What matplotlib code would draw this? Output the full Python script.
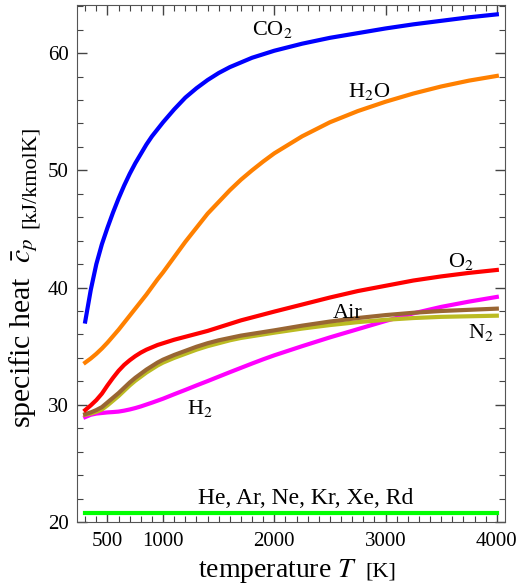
import numpy as np
import matplotlib
matplotlib.use("Agg")
import matplotlib.pyplot as plt
from matplotlib.ticker import MultipleLocator, FixedLocator

plt.rcParams['font.family'] = ['Liberation Serif', 'DejaVu Serif']
plt.rcParams['mathtext.fontset'] = 'stix'

### data (T in K, cp in kJ/kmolK)
T = [300, 350, 400, 450, 500, 550, 600, 650, 700, 750, 800, 850, 900, 950, 1000,
     1100, 1200, 1300, 1400, 1500, 1600, 1700, 1800, 1900, 2000,
     2250, 2500, 2750, 3000, 3250, 3500, 3750, 4000]

cp_co2 = [37.1, 39.8, 42.0, 43.7, 45.1, 46.4, 47.6, 48.7, 49.7, 50.6, 51.4, 52.2, 52.9, 53.5, 54.1,
          55.2, 56.2, 57.0, 57.7, 58.3, 58.8, 59.2, 59.6, 59.9, 60.2,
          60.8, 61.3, 61.7, 62.1, 62.45, 62.75, 63.05, 63.3]
cp_h2o = [33.6, 33.95, 34.35, 34.8, 35.3, 35.85, 36.4, 37.0, 37.6, 38.2, 38.8, 39.4, 40.05, 40.7, 41.3,
          42.6, 43.9, 45.1, 46.3, 47.3, 48.3, 49.2, 50.0, 50.75, 51.45,
          52.9, 54.1, 55.05, 55.85, 56.55, 57.15, 57.65, 58.05]
cp_o2 = [29.55, 29.95, 30.4, 30.95, 31.65, 32.3, 32.9, 33.4, 33.8, 34.15, 34.45, 34.7, 34.9, 35.1, 35.25,
         35.55, 35.8, 36.05, 36.3, 36.6, 36.9, 37.2, 37.45, 37.7, 37.95,
         38.55, 39.15, 39.7, 40.15, 40.6, 40.95, 41.25, 41.5]
cp_air = [29.2, 29.35, 29.55, 29.8, 30.2, 30.6, 31.0, 31.45, 31.9, 32.3, 32.65, 33.0, 33.3, 33.6, 33.85,
          34.25, 34.6, 34.95, 35.25, 35.5, 35.7, 35.9, 36.05, 36.2, 36.35,
          36.75, 37.1, 37.4, 37.65, 37.85, 38.0, 38.1, 38.2]
cp_n2 = [29.15, 29.25, 29.4, 29.6, 29.95, 30.35, 30.75, 31.2, 31.65, 32.05, 32.4, 32.75, 33.05, 33.35, 33.6,
         34.0, 34.35, 34.7, 35.0, 35.25, 35.5, 35.7, 35.85, 36.0, 36.15,
         36.5, 36.8, 37.05, 37.25, 37.4, 37.5, 37.55, 37.6]
cp_h2 = [28.95, 29.15, 29.25, 29.3, 29.35, 29.38, 29.42, 29.5, 29.6, 29.72, 29.86, 30.02, 30.18, 30.35, 30.52,
         30.9, 31.27, 31.65, 32.02, 32.4, 32.78, 33.15, 33.52, 33.88, 34.22,
         35.0, 35.75, 36.45, 37.15, 37.8, 38.35, 38.8, 39.2]
cp_mono = [20.8] * len(T)

# curve labels: text, T position, cp position
labels = ["CO$_2$", "H$_2$O", "O$_2$", "Air", "N$_2$", "H$_2$", "He, Ar, Ne, Kr, Xe, Rd"]
label_T = [1982, 2853, 3680, 2656, 3860, 1327, 2279]
label_cp = [62.0, 56.7, 42.2, 37.8, 36.2, 29.7, 22.0]
label_size = [16, 16, 16, 16, 16, 16, 17]

fig = plt.figure(figsize=(5.18, 5.88), dpi=100)
ax = fig.add_axes([0.1486, 0.1122, 0.8264, 0.8793])

lw = 3
ax.plot(T, cp_mono, color='#00ff00', lw=lw)
ax.plot(T, cp_h2, color='#ff00ff', lw=lw)
ax.plot(T, cp_n2, color='#bbbb22', lw=lw)
ax.plot(T, cp_air, color='#996633', lw=lw)
ax.plot(T, cp_o2, color='#ff0000', lw=lw)
ax.plot(T, cp_h2o, color='#ff8000', lw=lw)
ax.plot(T, cp_co2, color='#0000ff', lw=lw)

for txt, tx, ty, fs in zip(labels, label_T, label_cp, label_size):
    ax.text(tx, ty, txt, fontsize=fs, ha='center', va='center')

ax.set_xlim(226, 4074)
ax.set_ylim(20, 64.1)

ax.xaxis.set_major_locator(FixedLocator([500, 1000, 2000, 3000, 4000]))
ax.xaxis.set_minor_locator(MultipleLocator(100))
ax.yaxis.set_major_locator(MultipleLocator(10))
ax.yaxis.set_minor_locator(MultipleLocator(2))
ax.tick_params(which='both', direction='in', top=True, right=True, color='#444444',
               labelsize=15)
ax.tick_params(which='major', length=7, width=1)
ax.tick_params(which='minor', length=4, width=0.8)
ax.tick_params(axis='x', pad=7)
ax.tick_params(axis='y', pad=6)
for sp in ax.spines.values():
    sp.set_color('#555555')

# axis labels placed by hand, units a bit smaller like the original
xbase = 1 - 577 / 588
xl = fig.text(198 / 518, xbase, "temperature $T$", fontsize=20, ha='left', va='baseline')
yl = fig.text(24 / 518, 1 - 428 / 588, "specific heat  $\\bar{c}_p$", fontsize=21.5,
              rotation=90, ha='center', va='bottom')
fig.canvas.draw()
bb = xl.get_window_extent().transformed(fig.transFigure.inverted())
fig.text(bb.x1 + 8 / 518, xbase, "[K]", fontsize=16, ha='left', va='baseline')
bb = yl.get_window_extent().transformed(fig.transFigure.inverted())
fig.text(bb.x1, bb.y1 + 9 / 588, "[kJ/kmolK]", fontsize=16, rotation=90,
         ha='right', va='bottom')

fig.savefig("out.png", dpi=100)
